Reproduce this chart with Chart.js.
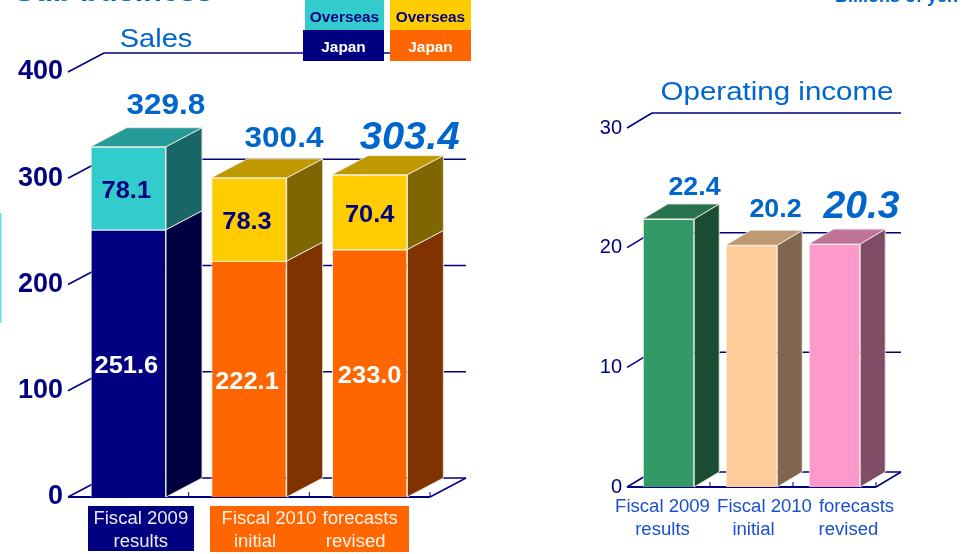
<!DOCTYPE html>
<html>
<head>
<meta charset="utf-8">
<script src="https://cdn.jsdelivr.net/npm/chart.js@4"></script>
<style>
    html, body { margin: 0; padding: 0; background: #fff; overflow: hidden; }
    canvas { position: absolute; top: 0; }
    #sales-chart { left: 0; }
    #income-chart { left: 480px; }
</style>
</head>
<body>
<canvas id="sales-chart" width="480" height="554"></canvas>
<canvas id="income-chart" width="483" height="554"></canvas>
<script>
const categories = ['results', 'initial', 'revised'];
const salesJapan = [251.6, 222.1, 233.0];
const salesOverseas = [78.1, 78.3, 70.4];
const salesTotals = ['329.8', '300.4', '303.4'];
const incomeValues = [22.4, 20.2, 20.3];
const incomeLabels = ['22.4', '20.2', '20.3'];
const salesTicks = [0, 100, 200, 300, 400];
const incomeTicks = [0, 10, 20, 30];

const NAVY = '#000080';
const BLUE = '#0066CC';
const EDGE = 'rgba(235, 235, 225, 0.9)';

function shade(hex, factor) {
    const n = parseInt(hex.slice(1), 16);
    const r = Math.round((n >> 16) * factor);
    const g = Math.round(((n >> 8) & 255) * factor);
    const b = Math.round((n & 255) * factor);
    return `rgb(${r}, ${g}, ${b})`;
}

function face(ctx, points, fill) {
    ctx.beginPath();
    points.forEach((p, i) => (i ? ctx.lineTo(p[0], p[1]) : ctx.moveTo(p[0], p[1])));
    ctx.closePath();
    ctx.fillStyle = fill;
    ctx.fill();
    ctx.strokeStyle = EDGE;
    ctx.lineWidth = 1;
    ctx.stroke();
}

function line(ctx, x1, y1, x2, y2, width) {
    ctx.beginPath();
    ctx.moveTo(x1, y1);
    ctx.lineTo(x2, y2);
    ctx.strokeStyle = NAVY;
    ctx.lineWidth = width;
    ctx.stroke();
}

// text wider than its height, the source slide was stretched sideways
function text(ctx, str, x, y, font, color, stretch = 1, align = 'center', baseline = 'middle') {
    ctx.save();
    ctx.translate(x, baseline === 'middle' ? y + 2 : y);
    ctx.scale(stretch, 1);
    ctx.font = font;
    ctx.fillStyle = color;
    ctx.textAlign = align;
    ctx.textBaseline = baseline;
    ctx.fillText(str, 0, 0);
    ctx.restore();
}

function box3dPlugin(dx, dy) {
    return {
        id: 'box3d',
        beforeDatasetsDraw(chart) {
            const { ctx, scales: { x, y } } = chart;
            const left = x.left;
            const right = x.right;
            const floor = y.getPixelForValue(0);

            y.ticks.forEach((tick) => {
                const py = y.getPixelForValue(tick.value);
                line(ctx, left, py, left + dx, py - dy, 1.5);
                line(ctx, left + dx, py - dy, right + dx, py - dy, 1.5);
            });
            line(ctx, left, floor, right, floor, 2);
            line(ctx, right, floor, right + dx, floor - dy, 1.5);
            categories.forEach((c, i) => {
                const edge = x.getPixelForValue(i) + (x.getPixelForValue(1) - x.getPixelForValue(0)) / 2;
                line(ctx, edge, floor, edge, floor - 5, 1);
            });

            chart.data.datasets.forEach((ds, di) => {
                chart.getDatasetMeta(di).data.forEach((bar, i) => {
                    const color = ds.backgroundColor[i];
                    const l = bar.x - bar.width / 2;
                    const r = bar.x + bar.width / 2;
                    face(ctx, [[r, bar.base], [r + dx, bar.base - dy], [r + dx, bar.y - dy], [r, bar.y]], shade(color, 0.5));
                    if (di === chart.data.datasets.length - 1) {
                        face(ctx, [[l, bar.y], [l + dx, bar.y - dy], [r + dx, bar.y - dy], [r, bar.y]], shade(color, 0.75));
                    }
                });
            });
        },
    };
}

const salesText = {
    id: 'salesText',
    afterDraw(chart) {
        const { ctx, scales: { x } } = chart;
        const bottom = chart.getDatasetMeta(0).data;
        const top = chart.getDatasetMeta(1).data;

        text(ctx, 'Sub business', 14, 1, 'bold 30px "Liberation Sans"', BLUE, 1.02, 'left', 'alphabetic');
        ctx.fillStyle = '#66DDEE';
        ctx.fillRect(0, 213, 1.5, 110);

        text(ctx, 'Sales', 156, 38, '25px "Liberation Sans"', BLUE, 1.16);

        // legend swatches
        const legend = [
            [305, 0, 79, 30, '#33CCCC', 'Overseas', NAVY],
            [303, 30, 81, 31, NAVY, 'Japan', '#fff'],
            [390, 0, 81, 30, '#FFCC00', 'Overseas', NAVY],
            [390, 30, 81, 31, '#FF6600', 'Japan', '#fff'],
        ];
        legend.forEach(([lx, ly, w, h, fill, label, color]) => {
            ctx.fillStyle = fill;
            ctx.fillRect(lx, ly, w, h);
            text(ctx, label, lx + w / 2, ly + h / 2 + 1, 'bold 14px "Liberation Sans"', color, 1.1);
        });

        const totalDx = [37.5, 35, 40];
        const totalDy = [43, 41, 38];
        const totalFont = ['bold 30px "Liberation Sans"', 'bold 30px "Liberation Sans"', 'italic bold 38px "Liberation Sans"'];
        const segDx = [-2, -2, 0];
        salesTotals.forEach((t, i) => {
            text(ctx, t, top[i].x + totalDx[i], top[i].y - totalDy[i], totalFont[i], BLUE, 1.05);
            text(ctx, salesOverseas[i].toFixed(1), top[i].x + segDx[i], (top[i].y + top[i].base) / 2 + 1, 'bold 24px "Liberation Sans"', NAVY, 1.06);
            text(ctx, salesJapan[i].toFixed(1), bottom[i].x + segDx[i], (bottom[i].y + bottom[i].base) / 2 + 1, 'bold 24px "Liberation Sans"', '#fff', 1.06);
        });

        // caption plates under the axis
        ctx.fillStyle = NAVY;
        ctx.fillRect(88, 506, 106, 45);
        ctx.fillStyle = '#FF6600';
        ctx.fillRect(210, 506, 199, 46);
        const font = '18px "Liberation Sans"';
        const captionColor = 'rgba(255, 255, 255, 0.92)';
        const upperText = ['Fiscal 2009', 'Fiscal 2010', 'forecasts'];
        const upperDx = [12.5, 20, -9.5];
        const lowerDx = [12.5, 6, -14];
        categories.forEach((c, i) => {
            const cx = x.getPixelForValue(i);
            text(ctx, upperText[i], cx + upperDx[i], 517, font, captionColor, 1.03);
            text(ctx, c, cx + lowerDx[i], 540, font, captionColor, 1.03);
        });
    },
};

const incomeText = {
    id: 'incomeText',
    afterDraw(chart) {
        const { ctx, scales: { x } } = chart;
        const bars = chart.getDatasetMeta(0).data;

        text(ctx, 'Billions of yen', 478, 2, 'bold 18px "Liberation Sans"', BLUE, 1, 'right', 'alphabetic');
        text(ctx, 'Operating income', 297, 91, '25px "Liberation Sans"', BLUE, 1.18);

        const dx = [26, 24, 27];
        const dy = [33, 37, 39];
        const font = ['bold 26px "Liberation Sans"', 'bold 26px "Liberation Sans"', 'italic bold 38px "Liberation Sans"'];
        incomeLabels.forEach((t, i) => {
            text(ctx, t, bars[i].x + dx[i], bars[i].y - dy[i], font[i], BLUE, 1.03);
        });

        const captionFont = '18px "Liberation Sans"';
        const color = '#1A4FD0';
        const upperText = ['Fiscal 2009', 'Fiscal 2010', 'forecasts'];
        const upperDx = [-6, 13, 22];
        const lowerDx = [-6, 2, 14];
        categories.forEach((c, i) => {
            const cx = x.getPixelForValue(i);
            text(ctx, upperText[i], cx + upperDx[i], 505, captionFont, color, 1.03);
            text(ctx, c, cx + lowerDx[i], 528, captionFont, color, 1.03);
        });
    },
};

function yAxis(max, step, width, tickValues, font, padding) {
    return {
        min: 0,
        max,
        stacked: true,
        grid: { display: false, drawTicks: false },
        border: { display: false },
        afterFit(scale) {
            scale.width = width;
        },
        afterBuildTicks(scale) {
            scale.ticks = tickValues.map((value) => ({ value }));
        },
        ticks: {
            stepSize: step,
            color: NAVY,
            font,
            padding,
        },
    };
}

const xAxis = {
    stacked: true,
    grid: { display: false, drawTicks: false },
    border: { display: false },
    ticks: { display: false },
    afterFit(scale) {
        scale.height = 0;
    },
};

new Chart(document.getElementById('sales-chart'), {
    type: 'bar',
    data: {
        labels: categories,
        datasets: [
            { data: salesJapan, backgroundColor: [NAVY, '#FF6600', '#FF6600'] },
            { data: salesOverseas, backgroundColor: ['#33CCCC', '#FFCC00', '#FFCC00'] },
        ].map((ds) => ({ ...ds, borderColor: EDGE, borderWidth: 1, categoryPercentage: 0.625, barPercentage: 1 })),
    },
    options: {
        responsive: false,
        animation: false,
        layout: { padding: { left: 0, right: 50, top: 72, bottom: 57 } },
        plugins: { legend: { display: false }, tooltip: { enabled: false } },
        scales: {
            x: xAxis,
            y: yAxis(400, 100, 68, salesTicks, { family: 'Liberation Sans', size: 27, weight: 'bold' }, 5),
        },
    },
    plugins: [box3dPlugin(36, 19), salesText],
});

new Chart(document.getElementById('income-chart'), {
    type: 'bar',
    data: {
        labels: categories,
        datasets: [{
            data: incomeValues,
            backgroundColor: ['#339966', '#FFCC99', '#FF99CC'],
            borderColor: EDGE,
            borderWidth: 1,
            categoryPercentage: 0.62,
            barPercentage: 1,
        }],
    },
    options: {
        responsive: false,
        animation: false,
        layout: { padding: { left: 0, right: 87, top: 128, bottom: 67 } },
        plugins: { legend: { display: false }, tooltip: { enabled: false } },
        scales: {
            x: xAxis,
            y: yAxis(30, 10, 147, incomeTicks, { family: 'Liberation Sans', size: 20 }, 5),
        },
    },
    plugins: [box3dPlugin(25, 15), incomeText],
});
</script>
</body>
</html>
